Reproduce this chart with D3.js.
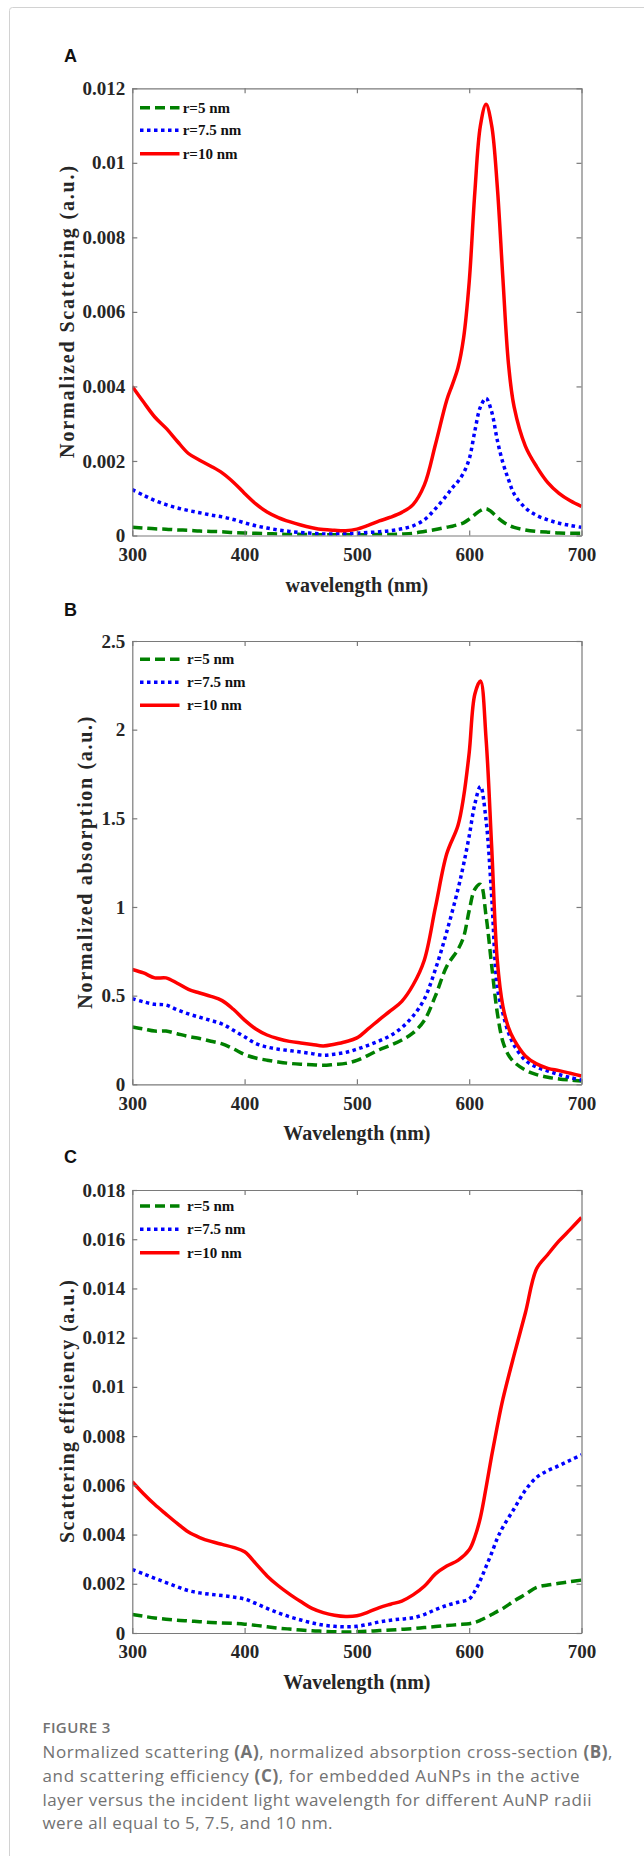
<!DOCTYPE html>
<meta charset="utf-8">
<head>
<style>
body { margin: 0; background: #fff; }
svg { display: block; }
.tick text { font-family: "Liberation Serif", "Times New Roman", serif; font-weight: bold; font-size: 19px; fill: #262626; }
.axis path, .axis line { stroke: #7a7a7a; stroke-width: 1.2; }
.ttl { font-family: "Liberation Serif", "Times New Roman", serif; font-weight: bold; font-size: 20px; fill: #262626; }
.leg { font-family: "Liberation Serif", "Times New Roman", serif; font-weight: bold; font-size: 15px; fill: #111; }
.panel { font-family: "Liberation Sans", Arial, sans-serif; font-weight: bold; font-size: 18px; fill: #111; }
.cap { font-family: "Open Sans", sans-serif; font-size: 17px; fill: #727272; }
</style>
</head>
<body>
<svg width="644" height="1856"></svg>
<script src="https://cdn.jsdelivr.net/npm/d3@7"></script>
<script>

// ---- data ----
var seriesNames = ["r=5 nm", "r=7.5 nm", "r=10 nm"];

// panel A: normalized scattering
var wlA = [300,310,320,330,340,350,360,370,380,390,400,410,420,430,440,450,460,470,480,490,500,510,520,530,540,550,560,570,580,585,590,595,600,605,610,615,620,625,630,635,640,650,660,670,680,690,700];
var a5 = [0.00022,0.0002,0.00018,0.00017,0.00015,0.00014,0.00012,0.00011,0.0001,0.00008,0.00007,0.00006,0.00005,0.00004,0.00003,0.00003,0.00002,0.00002,0.00002,0.00002,0.00002,0.00002,0.00003,0.00003,0.00004,0.00006,0.00011,0.00016,0.00022,0.00025,0.00029,0.00034,0.00044,0.00056,0.00067,0.00072,0.00063,0.00049,0.00037,0.00028,0.00022,0.00015,0.00011,0.00009,0.00007,0.00006,0.00006];
var a75 = [0.00123,0.00108,0.00094,0.00083,0.00074,0.00067,0.00061,0.00055,0.0005,0.00043,0.00034,0.00026,0.0002,0.00015,0.00011,0.00008,0.00006,0.00004,0.00004,0.00005,0.00006,0.00008,0.0001,0.00013,0.00018,0.00026,0.00042,0.00072,0.00108,0.00128,0.00145,0.00168,0.00205,0.0028,0.00345,0.00368,0.00332,0.00256,0.00195,0.0015,0.00112,0.00074,0.00054,0.00042,0.00033,0.00027,0.00022];
var a10 = [0.004,0.00358,0.00318,0.00288,0.00253,0.0022,0.00202,0.00186,0.00168,0.00143,0.00113,0.00085,0.00063,0.00048,0.00037,0.00028,0.00021,0.00016,0.00014,0.00013,0.00017,0.00027,0.00039,0.00049,0.00062,0.00083,0.00135,0.00245,0.00363,0.00405,0.0045,0.0053,0.0068,0.0092,0.011,0.01157,0.011,0.00937,0.0069,0.0046,0.00345,0.0024,0.00185,0.00142,0.00113,0.00093,0.00078];

// panel B: normalized absorption
var wlB = [300,310,320,330,340,350,360,370,380,390,400,410,420,430,440,450,460,470,480,490,500,510,520,530,540,550,560,570,580,590,595,600,605,610,615,620,625,630,635,640,650,660,670,680,690,700];
var b5 = [0.323,0.312,0.3,0.3,0.285,0.27,0.258,0.243,0.228,0.2,0.168,0.148,0.136,0.126,0.118,0.113,0.11,0.107,0.112,0.118,0.135,0.163,0.195,0.22,0.25,0.29,0.36,0.5,0.665,0.76,0.83,0.98,1.1,1.128,0.95,0.67,0.404,0.24,0.165,0.125,0.08,0.055,0.04,0.03,0.024,0.019];
var b75 = [0.483,0.465,0.451,0.447,0.42,0.397,0.378,0.36,0.34,0.305,0.268,0.23,0.21,0.198,0.19,0.182,0.173,0.164,0.17,0.18,0.198,0.22,0.245,0.275,0.32,0.385,0.48,0.65,0.86,1.1,1.24,1.4,1.58,1.68,1.49,1.06,0.55,0.4,0.29,0.22,0.135,0.097,0.075,0.055,0.038,0.024];
var b10 = [0.648,0.628,0.6,0.6,0.57,0.535,0.515,0.496,0.472,0.423,0.362,0.312,0.278,0.257,0.242,0.233,0.225,0.216,0.226,0.24,0.262,0.312,0.365,0.415,0.468,0.56,0.7,1.0,1.3,1.46,1.62,1.87,2.2,2.274,1.95,1.34,0.7,0.44,0.32,0.25,0.16,0.115,0.09,0.077,0.062,0.047];

// panel C: scattering efficiency
var wlC = [300,310,320,330,340,350,360,370,380,390,400,410,420,430,440,450,460,470,480,490,500,510,520,530,540,550,560,570,580,590,600,605,610,615,620,625,630,640,650,660,670,680,690,700];
var c5 = [0.00075,0.00068,0.00061,0.00056,0.00052,0.00049,0.00046,0.00043,0.00041,0.00039,0.00036,0.00031,0.00025,0.0002,0.00016,0.00012,0.00009,0.00007,0.00005,0.00004,0.00005,0.00007,0.0001,0.00012,0.00015,0.00018,0.00022,0.00026,0.0003,0.00034,0.00038,0.00043,0.00052,0.00063,0.00075,0.00088,0.001,0.0013,0.00157,0.00185,0.00195,0.00202,0.00209,0.00215];
var c75 = [0.00258,0.0024,0.00222,0.00205,0.00188,0.00172,0.00163,0.00157,0.00152,0.00146,0.00138,0.0012,0.001,0.00082,0.00066,0.00053,0.00041,0.00032,0.00027,0.00025,0.00027,0.00035,0.00045,0.00052,0.00057,0.00062,0.00075,0.00095,0.00112,0.00125,0.00138,0.0017,0.00215,0.0027,0.00325,0.00384,0.0043,0.00505,0.0058,0.00632,0.0066,0.0068,0.00702,0.00724];
var c10 = [0.00615,0.00566,0.00522,0.00483,0.00445,0.0041,0.00388,0.00372,0.0036,0.00348,0.0033,0.00282,0.00232,0.00192,0.00158,0.00128,0.001,0.00083,0.00072,0.00067,0.0007,0.00085,0.00103,0.00117,0.0013,0.00155,0.0019,0.0024,0.00272,0.00295,0.00338,0.0039,0.0047,0.0059,0.0072,0.0084,0.0095,0.0113,0.013,0.0148,0.01538,0.01593,0.0164,0.01688];

var xTicks = [300, 400, 500, 600, 700];
var yTicksA = [0, 0.002, 0.004, 0.006, 0.008, 0.01, 0.012];
var yTicksB = [0, 0.5, 1, 1.5, 2, 2.5];
var yTicksC = [0, 0.002, 0.004, 0.006, 0.008, 0.01, 0.012, 0.014, 0.016, 0.018];

var styles = [
  { color: "#008000", dash: "10,5" },
  { color: "#0000ff", dash: "3.5,3.5" },
  { color: "#ff0000", dash: null }
];

var svg = d3.select("svg");

// card border
svg.append("rect")
  .attr("x", 9.5).attr("y", 7.5)
  .attr("width", 700).attr("height", 1900)
  .attr("rx", 3)
  .attr("fill", "none")
  .attr("stroke", "#d2d2d2");

var left = 132.3, right = 581.5;

function panel(cfg) {
  var x = d3.scaleLinear().domain([300, 700]).range([left, right]);
  var y = d3.scaleLinear().domain([0, cfg.ymax]).range([cfg.bottom, cfg.top]);
  var g = svg.append("g");
  var fmt = function(d) { return String(+d.toFixed(4)); };

  g.append("text").attr("class", "panel")
    .attr("x", 64).attr("y", cfg.letterY).text(cfg.letter);

  // lines
  var line = d3.line()
    .x(function(d) { return x(d[0]); })
    .y(function(d) { return y(d[1]); })
    .curve(d3.curveCatmullRom.alpha(0.5));

  var clipId = "clip" + cfg.letter;
  g.append("clipPath").attr("id", clipId).append("rect")
    .attr("x", left).attr("y", cfg.top - 2)
    .attr("width", right - left).attr("height", cfg.bottom - cfg.top + 2);

  cfg.series.forEach(function(vals, i) {
    var pts = cfg.wl.map(function(w, j) { return [w, vals[j]]; });
    g.append("path")
      .attr("clip-path", "url(#" + clipId + ")")
      .attr("d", line(pts))
      .attr("fill", "none")
      .attr("stroke", styles[i].color)
      .attr("stroke-width", 3.5)
      .attr("stroke-dasharray", styles[i].dash);
  });

  // axes (inward ticks on all four sides)
  g.append("g").attr("class", "axis")
    .attr("transform", "translate(0," + cfg.bottom + ")")
    .call(d3.axisBottom(x).tickValues(xTicks).tickSizeInner(-5).tickSizeOuter(0).tickPadding(12).tickFormat(d3.format("d")));
  g.append("g").attr("class", "axis")
    .attr("transform", "translate(0," + cfg.top + ")")
    .call(d3.axisTop(x).tickValues(xTicks).tickSizeInner(-5).tickSizeOuter(0).tickFormat(""));
  g.append("g").attr("class", "axis")
    .attr("transform", "translate(" + left + ",0)")
    .call(d3.axisLeft(y).tickValues(cfg.yticks).tickSizeInner(-5).tickSizeOuter(0).tickPadding(7).tickFormat(fmt));
  g.append("g").attr("class", "axis")
    .attr("transform", "translate(" + right + ",0)")
    .call(d3.axisRight(y).tickValues(cfg.yticks).tickSizeInner(-5).tickSizeOuter(0).tickFormat(""));
  g.selectAll(".axis .tick text").attr("fill", null);
  g.selectAll(".axis path, .axis line").attr("stroke", null);

  // titles
  g.append("text").attr("class", "ttl")
    .attr("x", (left + right) / 2).attr("y", cfg.bottom + 56)
    .attr("text-anchor", "middle").text(cfg.xTitle);
  g.append("text").attr("class", "ttl")
    .attr("transform", "translate(" + cfg.yTitleX + "," + ((cfg.top + cfg.bottom) / 2) + ") rotate(-90)")
    .attr("text-anchor", "middle")
    .attr("textLength", cfg.yTitleLen).attr("lengthAdjust", "spacing")
    .text(cfg.yTitle);

  // legend
  cfg.legendY.forEach(function(ly, i) {
    g.append("line")
      .attr("x1", 140).attr("x2", 179.5).attr("y1", ly).attr("y2", ly)
      .attr("stroke", styles[i].color).attr("stroke-width", 3.5)
      .attr("stroke-dasharray", styles[i].dash);
    g.append("text").attr("class", "leg")
      .attr("x", cfg.legendX).attr("y", ly + 5).text(seriesNames[i]);
  });
}

panel({ letter: "A", letterY: 62, top: 88.3, bottom: 535.5, ymax: 0.012, yticks: yTicksA,
  wl: wlA, series: [a5, a75, a10], xTitle: "wavelength (nm)",
  yTitle: "Normalized Scattering (a.u.)", yTitleX: 74, yTitleLen: 292,
  legendY: [107.7, 130.3, 153.7], legendX: 182.7 });

panel({ letter: "B", letterY: 616, top: 641, bottom: 1084.3, ymax: 2.5, yticks: yTicksB,
  wl: wlB, series: [b5, b75, b10], xTitle: "Wavelength (nm)",
  yTitle: "Normalized absorption (a.u.)", yTitleX: 92, yTitleLen: 292,
  legendY: [659.3, 682.3, 705.3], legendX: 187 });

panel({ letter: "C", letterY: 1162.5, top: 1190, bottom: 1633, ymax: 0.018, yticks: yTicksC,
  wl: wlC, series: [c5, c75, c10], xTitle: "Wavelength (nm)",
  yTitle: "Scattering efficiency (a.u.)", yTitleX: 74, yTitleLen: 263,
  legendY: [1206, 1229.2, 1252.8], legendX: 187 });

// caption
svg.append("text").attr("class", "cap")
  .attr("x", 42.5).attr("y", 1732.7)
  .style("font-weight", 600).style("font-size", "15px").style("letter-spacing", "0.4px")
  .text("FIGURE 3");

var capLines = [
  [["Normalized scattering ", 0], ["(A)", 1], [", normalized absorption cross-section ", 0], ["(B)", 1], [",", 0]],
  [["and scattering efficiency ", 0], ["(C)", 1], [", for embedded AuNPs in the active", 0]],
  [["layer versus the incident light wavelength for different AuNP radii", 0]],
  [["were all equal to 5, 7.5, and 10 nm.", 0]]
];
var capWidths = [570, 537, 549, 290];
capLines.forEach(function(parts, i) {
  var t = svg.append("text").attr("class", "cap")
    .attr("x", 42.5).attr("y", 1758 + i * 23.8)
    .attr("textLength", capWidths[i]).attr("lengthAdjust", "spacing");
  parts.forEach(function(p) {
    t.append("tspan").style("font-weight", p[1] ? 700 : 400).text(p[0]);
  });
});

</script>
</body>
